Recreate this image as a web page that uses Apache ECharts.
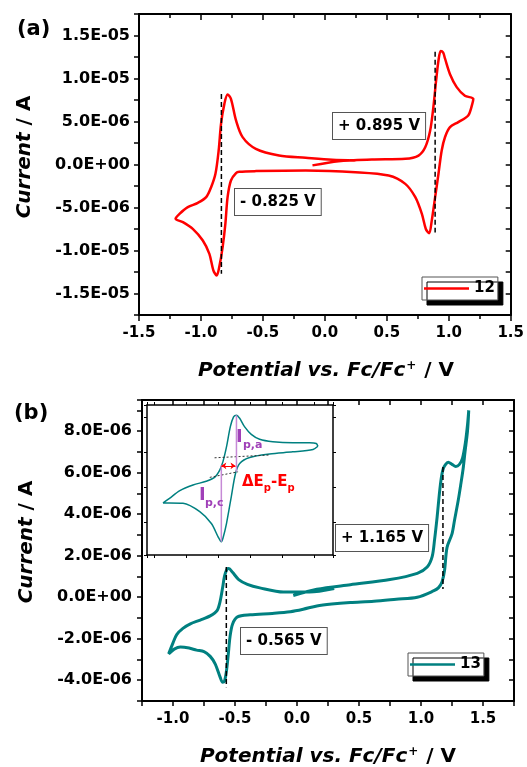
<!DOCTYPE html>
<html>
<head>
<meta charset="utf-8">
<script src="https://cdn.jsdelivr.net/npm/echarts@6/dist/echarts.min.js"></script>
<style>
  html, body { margin: 0; padding: 0; background: #fff; }
  #main { width: 527px; height: 767px; }
</style>
</head>
<body>
<div id="main"></div>
<script>
// (a) compound 12 - potential (V vs Fc/Fc+) and current (uA)
var scanA_V = [-0.10, 0.11, 0.38, 0.65, 0.756, 0.81, 0.85, 0.876, 0.898, 0.917, 0.935, 0.955, 0.97, 1.01, 1.064, 1.13, 1.198,
  1.19, 1.157, 1.077, 1.01, 0.97, 0.943, 0.917, 0.89, 0.863, 0.842, 0.815, 0.783, 0.73, 0.649, 0.515, 0.247, -0.155, -0.557,
  -0.69, -0.717, -0.758, -0.785, -0.803, -0.825, -0.852, -0.873, -0.9, -0.932, -0.985, -1.066, -1.146, -1.205,
  -1.173, -1.106, -1.025, -0.958, -0.918, -0.883, -0.857, -0.838, -0.811, -0.785, -0.758, -0.717, -0.664, -0.557, -0.37, -0.155, 0.059, 0.247];
var scanA_uA = [-0.1, 0.39, 0.58, 0.66, 1.04, 2.0, 3.95, 6.7, 9.77, 12.1, 13.2, 13.0, 12.3, 10.5, 9.0, 8.0, 7.64,
  7.05, 5.7, 4.93, 4.35, 3.2, 1.63, -1.08, -3.8, -6.5, -8.0, -7.5, -5.74, -3.8, -2.25, -1.28, -0.89, -0.70, -0.77,
  -0.85, -1.0, -1.86, -3.8, -6.9, -9.6, -11.9, -12.9, -12.3, -10.4, -8.84, -7.48, -6.7, -6.3,
  -5.74, -4.96, -4.46, -3.8, -2.64, -1.08, 1.63, 4.73, 7.05, 8.14, 7.64, 5.12, 3.18, 1.82, 1.05, 0.78, 0.54, 0.47];
// E1/2 markers (dashed) for (a): potential, top and bottom current (uA)
var halfA_V = [-0.835, 0.89];
var halfA_top = [8.2, 13.1];
var halfA_bot = [-12.7, -7.9];

// (b) compound 13
var scanB_V = [-0.03, 0.16, 0.43, 0.75, 0.97, 1.05, 1.09, 1.11, 1.13, 1.156, 1.18, 1.22, 1.25, 1.28, 1.31, 1.335, 1.357, 1.375, 1.385,
  1.375, 1.355, 1.34, 1.32, 1.30, 1.27, 1.25, 1.21, 1.19, 1.17, 1.14, 1.10, 0.97, 0.80, 0.62, 0.43, 0.28, 0.16, 0.05, -0.054,
  -0.2, -0.377, -0.48, -0.52, -0.54, -0.555, -0.57, -0.585, -0.60, -0.62, -0.66, -0.70, -0.75, -0.81, -0.87, -0.94, -0.99, -1.035,
  -1.0, -0.97, -0.92, -0.86, -0.78, -0.70, -0.645, -0.62, -0.60, -0.585, -0.565, -0.55, -0.52, -0.47, -0.40, -0.30, -0.11, 0.10, 0.30];
var scanB_uA = [0.08, 0.38, 0.60, 0.85, 1.15, 1.45, 1.95, 2.8, 3.86, 5.4, 6.2, 6.5, 6.4, 6.3, 6.4, 6.7, 7.4, 8.3, 9.0,
  8.0, 7.0, 6.2, 5.4, 4.66, 3.7, 3.05, 2.4, 1.3, 0.75, 0.45, 0.3, 0.0, -0.1, -0.2, -0.26, -0.33, -0.42, -0.58, -0.70,
  -0.78, -0.85, -0.95, -1.3, -1.9, -2.8, -3.6, -4.05, -4.1, -3.85, -3.21, -2.85, -2.62, -2.55, -2.45, -2.4, -2.5, -2.73,
  -2.2, -1.8, -1.5, -1.28, -1.1, -0.9, -0.65, -0.2, 0.45, 1.0, 1.35, 1.38, 1.2, 0.85, 0.62, 0.45, 0.25, 0.25, 0.42];
var halfB_V = [-0.57, 1.177];
var halfB_top = [1.45, 6.27];
var halfB_bot = [-4.34, 0.4];

// inset schematic (arbitrary units)
var insetX = [5.10, 4.95, 4.32, 3.60, 2.98, 2.67, 2.54, 2.41, 2.26, 2.15, 2.10, 2.00, 1.79, 1.43, 0.91, 0.49, 0.29,
  0.49, 0.81, 1.22, 1.63, 1.89, 2.05, 2.15, 2.26, 2.38, 2.48, 2.57, 2.67, 2.82, 3.03, 3.29, 3.70, 4.32, 4.84, 5.05, 5.10];
var insetY = [2.16, 2.07, 2.00, 1.94, 1.84, 1.67, 1.38, 0.72, -0.05, -0.47, -0.57, -0.43, -0.05, 0.29, 0.53, 0.54, 0.54,
  0.67, 0.89, 1.05, 1.16, 1.27, 1.48, 1.72, 2.14, 2.72, 3.00, 3.05, 2.96, 2.72, 2.50, 2.36, 2.29, 2.26, 2.26, 2.24, 2.16];
var ipa = [[2.57, 3.05], [2.57, 1.43]];
var ipc = [[2.10, 1.62], [2.10, -0.57]];
var baseUpper = [[1.89, 1.83], [3.60, 1.91]];
var baseLower = [[1.74, 1.27], [2.62, 1.43]];
var dEp = [[2.10, 1.60], [2.54, 1.60]];

// tick labels
var xTicksA = [-1.5, -1.0, -0.5, 0.0, 0.5, 1.0, 1.5];
var yTicksA = [-15e-6, -10e-6, -5e-6, 0, 5e-6, 10e-6, 15e-6];
var xTicksB = [-1.0, -0.5, 0.0, 0.5, 1.0, 1.5];
var yTicksB = [-4e-6, -2e-6, 0, 2e-6, 4e-6, 6e-6, 8e-6];

var FONT = 'DejaVu Sans';

function toPairs(xs, ys, k) {
  return xs.map(function (x, i) { return [x, ys[i] * k]; });
}
function hasTick(list, v, tol) {
  return list.some(function (t) { return Math.abs(t - v) < tol; });
}
function eLabel(v) {
  if (Math.abs(v) < 1e-12) return '0.0E+00';
  var e = Math.floor(Math.log10(Math.abs(v)) + 1e-9);
  var m = Math.round(v / Math.pow(10, e) * 10) / 10;
  if (Math.abs(m) >= 10) { m = m / 10; e += 1; }
  return m.toFixed(1) + 'E' + (e < 0 ? '-' : '+') + String(Math.abs(e)).padStart(2, '0');
}

var labelStyle = { color: '#000', fontFamily: FONT, fontWeight: 'bold' };

function axisBase(gridIndex, position, min, max, interval, inside, tickLen) {
  var a = {
    type: 'value', gridIndex: gridIndex, position: position, min: min, max: max,
    axisLine: { show: true, onZero: false, lineStyle: { color: '#000', width: 2 } },
    axisTick: { show: true, inside: inside, length: tickLen, lineStyle: { color: '#000', width: 1.5 } },
    axisLabel: { show: false },
    splitLine: { show: false }
  };
  if (interval != null) a.interval = interval;
  return a;
}

var xA = axisBase(0, 'bottom', -1.5, 1.5, 0.5, false, 6);
xA.minorTick = { show: true, splitNumber: 2, length: 4, lineStyle: { color: '#000', width: 1.5 } };
xA.axisLabel = Object.assign({ show: true, fontSize: 15, margin: 11, formatter: function (v) { return v.toFixed(1); } }, labelStyle);
var xA2 = axisBase(0, 'top', -1.5, 1.5, 0.5, true, 6);
xA2.minorTick = { show: true, splitNumber: 2, length: 4, lineStyle: { color: '#000', width: 1.5 } };

var yA = axisBase(0, 'left', -17.5e-6, 17.5e-6, 2.5e-6, false, 5);
yA.axisLabel = Object.assign({ show: true, fontSize: 16, margin: 9,
  formatter: function (v) { return hasTick(yTicksA, v, 1e-10) ? eLabel(v) : ''; } }, labelStyle);
var yA2 = axisBase(0, 'right', -17.5e-6, 17.5e-6, 2.5e-6, true, 5);

var xB = axisBase(1, 'bottom', -1.25, 1.75, 0.25, false, 5);
xB.axisLabel = Object.assign({ show: true, fontSize: 15, margin: 11,
  formatter: function (v) { return hasTick(xTicksB, v, 1e-6) ? v.toFixed(1) : ''; } }, labelStyle);
var xB2 = axisBase(1, 'top', -1.25, 1.75, 0.25, true, 5);

var yB = axisBase(1, 'left', -5e-6, 9.5e-6, 1e-6, false, 5);
yB.axisLabel = Object.assign({ show: true, fontSize: 16, margin: 10,
  formatter: function (v) { return hasTick(yTicksB, v, 1e-10) ? eLabel(v) : ''; } }, labelStyle);
var yB2 = axisBase(1, 'right', -5e-6, 9.5e-6, 1e-6, true, 5);

function insetAxis(position, min, max) {
  var a = axisBase(2, position, min, max, null, false, 3);
  a.axisLine.lineStyle.width = 1.5;
  a.axisTick.lineStyle.width = 1;
  return a;
}

function dashSeries(xi, yi, v, top, bot) {
  return {
    type: 'line', xAxisIndex: xi, yAxisIndex: yi, symbol: 'none', silent: true, z: 3,
    data: [[v, top * 1e-6], [v, bot * 1e-6]],
    lineStyle: { color: '#000', width: 1.5, type: [5, 3] }
  };
}
function insetLine(pts, color, width, type) {
  return {
    type: 'line', xAxisIndex: 4, yAxisIndex: 4, symbol: 'none', silent: true, z: 4,
    data: pts, lineStyle: { color: color, width: width, type: type || 'solid' }
  };
}

function boxText(x, y, txt) {
  return {
    type: 'text', x: x, y: y, z: 20,
    style: {
      text: txt, fill: '#000', font: 'bold 15px "' + FONT + '"',
      backgroundColor: '#fff', borderColor: '#555', borderWidth: 1, padding: [4, 5, 4, 5], lineHeight: 18
    }
  };
}
var richTitle = {
  i: { fontStyle: 'italic', fontWeight: 'bold', fontSize: 20, fontFamily: FONT, fill: '#000' },
  n: { fontWeight: 'bold', fontSize: 20, fontFamily: FONT, fill: '#000' },
  sup: { fontWeight: 'bold', fontSize: 12, fontFamily: FONT, fill: '#000', verticalAlign: 'top', padding: [0, 1, 10, 1] }
};
function titleText(x, y, txt, rot) {
  return {
    type: 'text', x: x, y: y, rotation: rot || 0, z: 20,
    style: { text: txt, rich: richTitle, align: 'center', verticalAlign: 'middle', fill: '#000' }
  };
}
function plainText(x, y, txt, size, color, weight) {
  return {
    type: 'text', x: x, y: y, z: 20,
    style: { text: txt, fill: color, font: (weight || 'bold') + ' ' + size + 'px "' + FONT + '"' }
  };
}

function legendBox(left, top, name) {
  return {
    data: [name], left: left, top: top, orient: 'horizontal', selectedMode: false,
    icon: 'rect', itemWidth: 45, itemHeight: 2.5, itemGap: 0, padding: [4, 3, 4, 2],
    backgroundColor: '#fff', borderColor: '#555', borderWidth: 1,
    shadowColor: '#000', shadowBlur: 0, shadowOffsetX: 5, shadowOffsetY: 5,
    textStyle: { color: '#000', fontFamily: FONT, fontWeight: 'bold', fontSize: 15, padding: [2, 0, 2, 0] }
  };
}

var chart = echarts.init(document.getElementById('main'), null, { renderer: 'canvas' });
var option = {
  animation: false,
  backgroundColor: '#fff',
  grid: [
    { left: 139, top: 14, width: 374, height: 301 },
    { left: 142, top: 400, width: 372, height: 301 },
    { left: 147, top: 405, width: 186, height: 150, show: true, backgroundColor: '#fff', borderWidth: 0 }
  ],
  xAxis: [xA, xA2, xB, xB2, insetAxis('bottom', -0.21, 5.57), insetAxis('top', -0.21, 5.57)],
  yAxis: [yA, yA2, yB, yB2, insetAxis('left', -0.95, 3.34), insetAxis('right', -0.95, 3.34)],
  legend: [legendBox(422, 277, '12'), legendBox(408, 653, '13')],
  series: [
    {
      name: '12', type: 'line', xAxisIndex: 0, yAxisIndex: 0, symbol: 'none', smooth: 0.3,
      data: toPairs(scanA_V, scanA_uA, 1e-6),
      lineStyle: { color: '#ff0000', width: 2.5 }, itemStyle: { color: '#ff0000' }
    },
    dashSeries(0, 0, halfA_V[0], halfA_top[0], halfA_bot[0]),
    dashSeries(0, 0, halfA_V[1], halfA_top[1], halfA_bot[1]),
    {
      name: '13', type: 'line', xAxisIndex: 2, yAxisIndex: 2, symbol: 'none', smooth: 0.3,
      data: toPairs(scanB_V, scanB_uA, 1e-6),
      lineStyle: { color: '#008080', width: 3 }, itemStyle: { color: '#008080' }
    },
    dashSeries(2, 2, halfB_V[0], halfB_top[0], halfB_bot[0]),
    dashSeries(2, 2, halfB_V[1], halfB_top[1], halfB_bot[1]),
    {
      type: 'line', xAxisIndex: 4, yAxisIndex: 4, symbol: 'none', smooth: 0.3, silent: true, z: 4,
      data: toPairs(insetX, insetY, 1),
      lineStyle: { color: '#008080', width: 1.5 }
    },
    insetLine(baseUpper, '#333', 1, [2, 2]),
    insetLine(baseLower, '#333', 1, [2, 2]),
    insetLine(ipa, '#c68ad6', 1.5),
    insetLine(ipc, '#c68ad6', 1.5),
    {
      type: 'lines', coordinateSystem: 'cartesian2d', xAxisIndex: 4, yAxisIndex: 4, silent: true, z: 5,
      symbol: ['arrow', 'arrow'], symbolSize: 5,
      data: [{ coords: dEp }],
      lineStyle: { color: '#ff0000', width: 1.2, opacity: 1 }
    }
  ],
  graphic: [
    plainText(17, 19, '(a)', 21, '#000'),
    plainText(14, 403, '(b)', 21, '#000'),
    titleText(25, 157, '{i|Current}{n| / A}', Math.PI / 2),
    titleText(27, 542, '{i|Current}{n| / A}', Math.PI / 2),
    titleText(326, 371, '{i|Potential vs. Fc/Fc}{sup|+}{n| / V}'),
    titleText(328, 757, '{i|Potential vs. Fc/Fc}{sup|+}{n| / V}'),
    boxText(333, 113, '+ 0.895 V'),
    boxText(235, 189, '- 0.825 V'),
    boxText(336, 525, '+ 1.165 V'),
    boxText(241, 628, '- 0.565 V'),
    plainText(236, 428, 'I', 18, '#a040b8'),
    plainText(243, 440, 'p,a', 11, '#a040b8'),
    plainText(199, 486, 'I', 18, '#a040b8'),
    plainText(205, 498, 'p,c', 11, '#a040b8'),
    {
      type: 'text', x: 242, y: 475, z: 20,
      style: {
        text: '{m|ΔE}{s|p}{m|-E}{s|p}', fill: '#ff0000',
        rich: {
          m: { fontFamily: FONT, fontWeight: 'bold', fontSize: 15, fill: '#ff0000', verticalAlign: 'top' },
          s: { fontFamily: FONT, fontWeight: 'bold', fontSize: 10, fill: '#ff0000', verticalAlign: 'bottom', padding: [8, 0, 0, 0] }
        }
      }
    }
  ]
};
chart.setOption(option);
</script>
</body>
</html>
